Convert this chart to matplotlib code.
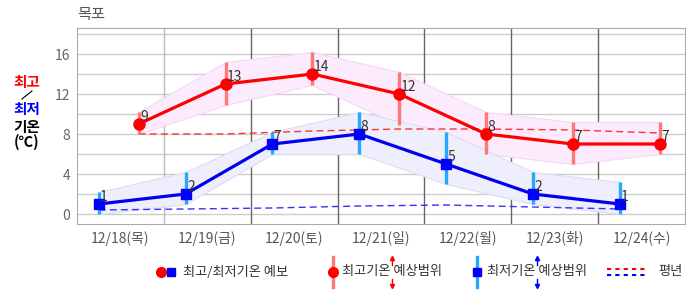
import matplotlib
matplotlib.use('Agg')
import matplotlib.pyplot as plt
from matplotlib.lines import Line2D
import numpy as np

plt.rcParams['font.family'] = ['Noto Sans CJK KR', 'DejaVu Sans']

# data
days       = ['12/18(목)', '12/19(금)', '12/20(토)', '12/21(일)', '12/22(월)', '12/23(화)', '12/24(수)']
max_temp   = [9, 13, 14, 12, 8, 7, 7]
min_temp   = [1, 2, 7, 8, 5, 2, 1]
max_hi     = [10.2, 15.2, 16.2, 14.2, 10.2, 9.2, 9.2]
max_lo     = [8.0, 10.9, 12.9, 8.9, 6.0, 5.0, 6.0]
min_hi     = [2.2, 4.2, 8.2, 10.2, 8.2, 4.2, 3.2]
min_lo     = [0.0, 1.0, 6.0, 6.0, 3.0, 1.0, 0.0]
normal_max = [8.0, 8.0, 8.3, 8.5, 8.5, 8.4, 8.1]
normal_min = [0.4, 0.5, 0.6, 0.8, 0.9, 0.7, 0.5]

W, H = 686, 295
fig = plt.figure(figsize=(W / 100, H / 100), dpi=100)
ax = fig.add_axes([77 / W, 1 - 224 / H, 608 / W, 196 / H])

idx = np.arange(len(days))
x_min = idx + 0.25   # morning low
x_max = idx + 0.71   # afternoon high

### grid
for y in np.arange(0, 19, 2):
    ax.axhline(y, color='#cccccc', lw=1, zorder=0)
for i in range(1, len(days)):
    ax.axvline(i, color='#bbbbbb' if i == 1 else '#666666', lw=1, zorder=0)

### ranges as bands
ax.fill_between(x_max, max_lo, max_hi, facecolor='#fcebfc', edgecolor='#f6d6f6', lw=0.8, zorder=1)
ax.fill_between(x_min, min_lo, min_hi, facecolor='#eeeefc', edgecolor='#dcdcf6', lw=0.8, zorder=1)

### normals
ax.plot(x_max, normal_max, color='#ff3333', lw=1, dashes=(5, 3), zorder=2)
ax.plot(x_min, normal_min, color='#3333ff', lw=1, dashes=(5, 3), zorder=2)

### range bars
ax.vlines(x_max, max_lo, max_hi, color='#ff7777', lw=2.4, zorder=3)
ax.vlines(x_min, min_lo, min_hi, color='#22aaff', lw=2.4, zorder=3)

### forecast lines
ax.plot(x_min, min_temp, color='#0000ee', lw=2.3, marker='s', ms=7.5,
        mfc='#0000ff', mec='#0000ff', zorder=4)
ax.plot(x_max, max_temp, color='#ff0000', lw=2.3, marker='o', ms=8,
        mfc='#ff0000', mec='#ff0000', zorder=5)

for xv, v in zip(x_max, max_temp):
    ax.annotate(str(v), (xv, v), xytext=(1, 0), textcoords='offset points',
                ha='left', va='bottom', fontsize=10, color='#333333', zorder=6)
for xv, v in zip(x_min, min_temp):
    ax.annotate(str(v), (xv, v), xytext=(1, 0), textcoords='offset points',
                ha='left', va='bottom', fontsize=10, color='#333333', zorder=6)

ax.set_xlim(0, len(days))
ax.set_ylim(-1, 18.6)
ax.set_xticks(idx + 0.5)
ax.set_xticklabels(days, fontsize=10, color='#555555')
ax.set_yticks([0, 4, 8, 12, 16])
ax.set_yticklabels(['0', '4', '8', '12', '16'], fontsize=10, color='#666666')
ax.tick_params(length=0, pad=5)
for s in ax.spines.values():
    s.set_color('#aaaaaa')

### title and y label
fig.text(77 / W, 1 - 15 / H, '목포', fontsize=11, color='#555555', va='center', ha='left')
fig.text(27 / W, 1 - 82 / H, '최고', fontsize=10.5, weight='bold', color='#ff0000', ha='center', va='center')
fig.add_artist(Line2D([22 / W, 32 / W], [1 - 99 / H, 1 - 91 / H], color='#000000', lw=0.8))
fig.text(27 / W, 1 - 109 / H, '최저', fontsize=10.5, weight='bold', color='#0000ff', ha='center', va='center')
fig.text(27 / W, 1 - 127 / H, '기온', fontsize=10.5, weight='bold', color='#000000', ha='center', va='center')
fig.text(27 / W, 1 - 142 / H, '(℃)', fontsize=10.5, weight='bold', color='#000000', ha='center', va='center')

### legend
ly = 1 - 272 / H
def fx(px):
    return px / W
def fy(py):
    return 1 - py / H

fig.add_artist(Line2D([fx(161)], [ly], marker='o', ms=7, color='#ff0000', ls='none'))
fig.add_artist(Line2D([fx(171)], [ly], marker='s', ms=6, color='#0000ff', ls='none'))
fig.text(fx(183), ly, '최고/최저기온 예보', fontsize=9.5, color='#333333', va='center')

fig.add_artist(Line2D([fx(333), fx(333)], [fy(257), fy(287)], color='#ff7777', lw=2.4))
fig.add_artist(Line2D([fx(333)], [ly], marker='o', ms=7, color='#ff0000', ls='none'))
fig.text(fx(342), ly, '최고기온 예상범위', fontsize=9.5, color='#333333', va='center')
fig.add_artist(Line2D([fx(392), fx(392)], [fy(265), fy(258)], color='#ff0000', lw=1, marker='^', markevery=[1], ms=3))
fig.add_artist(Line2D([fx(392), fx(392)], [fy(279), fy(286)], color='#ff0000', lw=1, marker='v', markevery=[1], ms=3))

fig.add_artist(Line2D([fx(477), fx(477)], [fy(257), fy(287)], color='#22aaff', lw=2.4))
fig.add_artist(Line2D([fx(477)], [ly], marker='s', ms=6, color='#0000ff', ls='none'))
fig.text(fx(487), ly, '최저기온 예상범위', fontsize=9.5, color='#333333', va='center')
fig.add_artist(Line2D([fx(537), fx(537)], [fy(265), fy(258)], color='#0000ff', lw=1, marker='^', markevery=[1], ms=3))
fig.add_artist(Line2D([fx(537), fx(537)], [fy(279), fy(286)], color='#0000ff', lw=1, marker='v', markevery=[1], ms=3))

fig.add_artist(Line2D([fx(607), fx(647)], [fy(269), fy(269)], color='#ff0000', lw=1.5, dashes=(2, 2)))
fig.add_artist(Line2D([fx(607), fx(647)], [fy(275), fy(275)], color='#0000ff', lw=1.5, dashes=(2, 2)))
fig.text(fx(658), ly, '평년', fontsize=9.5, color='#333333', va='center')

fig.savefig('out.png', dpi=100)
